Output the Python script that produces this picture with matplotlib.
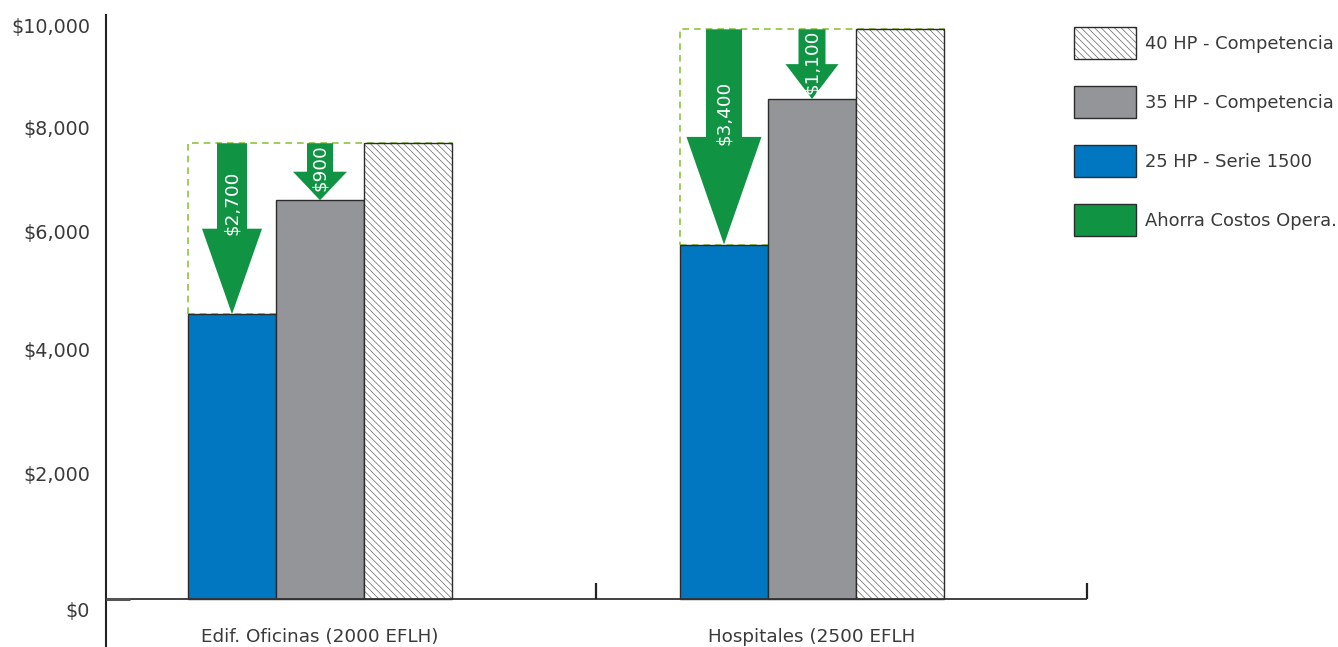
import matplotlib
matplotlib.use("Agg")
import matplotlib.pyplot as plt
from matplotlib.patches import Patch, Rectangle, FancyArrow

# ---- data -------------------------------------------------------------
categories = ["Edif. Oficinas (2000 EFLH)", "Hospitales (2500 EFLH"]
hp25_serie1500 = [4500, 5600]
hp35_competencia = [6300, 7900]
hp40_competencia = [7200, 9000]

ytick_labels = ["$10,000", "$8,000", "$6,000", "$4,000", "$2,000", "$0"]

series_names = ["40 HP - Competencia", "35 HP - Competencia",
                "25 HP - Serie 1500", "Ahorra Costos Opera."]

# ---- style -----------------------------------------------------------
BLUE = "#0077c0"
GRAY = "#939598"
GREEN = "#109444"
LIGHT_GREEN = "#8dc63f"
INK = "#3a3a3a"
EDGE = "#2b2b2b"
HATCH = "\\\\\\\\\\"
HATCH_INK = "#5a5a5a"

plt.rcParams["font.family"] = ["DejaVu Sans"]
plt.rcParams["hatch.linewidth"] = 0.45

W, H, DPI = 1338, 647, 100
fig = plt.figure(figsize=(W / DPI, H / DPI), dpi=DPI)

# axes geometry in pixels
ax_left_px, ax_right_px = 106, 1087
ax_top_px, base_px = 15, 599
px_per_dollar = 0.0633
px_per_cat = 492.0
cat0_px = 320

ax = fig.add_axes([ax_left_px / W, 0.0,
                   (ax_right_px - ax_left_px) / W, (H - ax_top_px) / H])
ax.set_ylim(-(H - base_px) / px_per_dollar, (base_px - ax_top_px) / px_per_dollar)
ax.set_xlim(-(cat0_px - ax_left_px) / px_per_cat,
            (ax_right_px - cat0_px) / px_per_cat)

def dx(px):
    return px / px_per_cat

def dy(px):
    return px / px_per_dollar

bar_w = dx(88)
xs = list(range(len(categories)))

# savings frames (behind the bars)
for i in xs:
    ax.add_patch(Rectangle((i - 1.5 * bar_w, hp25_serie1500[i]), 3 * bar_w,
                           hp40_competencia[i] - hp25_serie1500[i],
                           fill=False, edgecolor=LIGHT_GREEN, lw=1.2,
                           ls=(0, (4, 3)), zorder=1))

ax.bar([x - bar_w for x in xs], hp25_serie1500, width=bar_w, color=BLUE,
       edgecolor=EDGE, linewidth=1.0, zorder=2)
ax.bar(xs, hp35_competencia, width=bar_w, color=GRAY,
       edgecolor=EDGE, linewidth=1.0, zorder=2)
# hatched 40 HP bars: hatch layer in a softer ink, then a crisp outline
x40 = [x + bar_w for x in xs]
ax.bar(x40, hp40_competencia, width=bar_w, color="white",
       edgecolor=HATCH_INK, linewidth=0, hatch=HATCH, zorder=2)
ax.bar(x40, hp40_competencia, width=bar_w, fill=False,
       edgecolor=EDGE, linewidth=1.0, zorder=2.1)

# savings arrows: from the 40 HP level down to the lower bar
arrow_specs = [
    # (x offset in bars, target series, shaft px, head px, label position)
    (-1, hp25_serie1500, [30, 36], [60, 75], [0.35, 0.39]),
    (0, hp35_competencia, [26, 27], [54, 53], [0.42, 0.46]),
]
for off, target, shaft_px, head_px, lab_frac in arrow_specs:
    for i in xs:
        top = hp40_competencia[i]
        low = target[i]
        saving = top - low
        xc = i + off * bar_w
        ax.add_patch(FancyArrow(xc, top, 0, -saving, width=dx(shaft_px[i]),
                                head_width=dx(head_px[i]),
                                head_length=0.5 * saving,
                                length_includes_head=True,
                                color=GREEN, lw=0, zorder=3))
        ax.text(xc, top - lab_frac[i] * saving, f"${saving:,}", rotation=90,
                ha="center", va="center", color="white", fontsize=13.2,
                zorder=4)

# axes lines
ax.axhline(0, color="#333333", lw=1.3, zorder=5)
ax.plot([ax.get_xlim()[0], ax.get_xlim()[0] + dx(24)], [0, 0],
        color="#555555", lw=2.2, zorder=6, solid_capstyle="butt")
sep_x = [(596 - cat0_px) / px_per_cat, (ax_right_px - cat0_px) / px_per_cat]
ax.vlines(sep_x, 0, dy(16), color="#222222", lw=1.6, zorder=5, clip_on=False)

for s in ["top", "right", "bottom"]:
    ax.spines[s].set_visible(False)
ax.spines["left"].set_color("#222222")
ax.spines["left"].set_linewidth(1.5)

# value axis labels
tick_px = [25, 128, 232, 349, 473, 610]
ax.set_yticks([(base_px - p) / px_per_dollar for p in tick_px], ytick_labels)
ax.tick_params(axis="y", length=0, pad=11.5, labelsize=13.8, labelcolor=INK)
ax.set_xticks([])

# category labels
for i, name in zip(xs, categories):
    ax.annotate(name, (i, 0), xytext=(0, -27.5), textcoords="offset points",
                ha="center", va="center", fontsize=13.2, color=INK)

# legend (hatched key = soft hatch layer + dark outline)
handles = [
    (Patch(facecolor="white", edgecolor=HATCH_INK, hatch=HATCH, lw=0),
     Patch(fill=False, edgecolor=EDGE, lw=1.0)),
    Patch(facecolor=GRAY, edgecolor=EDGE, lw=1.0),
    Patch(facecolor=BLUE, edgecolor=EDGE, lw=1.0),
    Patch(facecolor=GREEN, edgecolor=EDGE, lw=1.0),
]
fs = 12.9
em = fs * DPI / 72
key_h = 32 / em  # key height in font-size units
fig.legend(handles, series_names, loc="upper left",
           bbox_to_anchor=(1074 / W, 1 - 27 / H), frameon=False,
           borderpad=0, borderaxespad=0, fontsize=fs,
           handlelength=62 / em, handleheight=(key_h - 0.245) / 0.65,
           handletextpad=9 / em, labelspacing=27 / em, labelcolor=INK)

fig.savefig("out.png", dpi=DPI)
